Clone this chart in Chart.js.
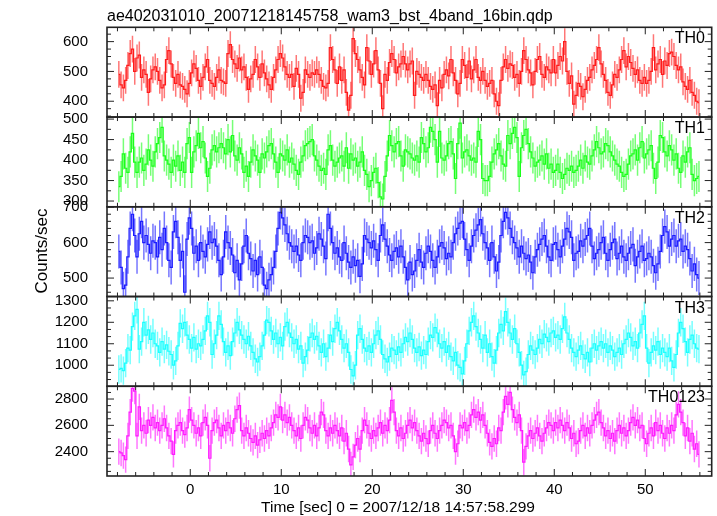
<!DOCTYPE html>
<html>
<head>
<meta charset="utf-8">
<script src="https://cdn.jsdelivr.net/npm/chart.js@4.4.0/dist/chart.umd.min.js"></script>
<style>
html, body { margin: 0; padding: 0; background: #fff; }
canvas { display: block; }
</style>
</head>
<body>
<canvas id="lc" width="717" height="516"></canvas>
<script>
const title = 'ae402031010_20071218145758_wam3_bst_4band_16bin.qdp'
const xTitle = 'Time [sec] 0 = 2007/12/18 14:57:58.299'
const yTitle = 'Counts/sec'

// time of the first bin centre and bin width (sec)
const t0 = -7.85
const binWidth = 0.25

const bands = ['TH0', 'TH1', 'TH2', 'TH3', 'TH0123']
const errors = [45, 38, 48, 66, 100]

const th0 = [
  490,455,445,470,520,560,575,500, 545,555,480,505,490,430,475,505,
  515,500,470,445,455,540,570,525, 480,460,490,455,450,440,425,460,
  495,525,510,470,450,480,515,540, 470,460,450,480,505,470,465,460,
  560,590,540,525,510,545,505,515, 480,440,475,490,540,515,480,525,
  495,475,455,440,480,505,540,560, 545,515,490,480,490,450,510,490,
  410,430,505,490,480,495,490,505, 490,470,450,445,460,580,540,505,
  460,515,470,505,430,370,420,610, 560,540,505,480,455,580,535,490,
  525,570,505,460,375,490,470,530, 560,540,495,515,525,550,525,505,
  525,535,420,500,490,480,470,490, 470,450,440,455,385,470,445,490,
  505,485,540,495,470,425,460,540, 520,480,535,475,505,540,480,470,
  500,470,450,460,470,425,400,385, 470,515,540,510,525,520,480,490,
  460,500,570,540,505,495,455,500, 540,550,490,480,515,505,495,540,
  495,520,550,535,600,500,460,485, 390,420,460,450,415,440,470,480,
  505,520,540,580,525,490,470,430, 420,455,490,480,505,540,570,515,
  550,530,510,490,505,470,460,480, 460,470,500,580,505,525,540,490,
  535,520,560,565,550,520,505,515, 465,450,440,470,430,420,400,395
]

const th1 = [
  335,360,415,380,370,420,465,395, 370,395,405,375,390,425,400,385,
  420,440,455,480,410,400,390,370, 400,385,410,375,395,370,440,455,
  370,420,435,465,430,445,405,360, 380,425,435,420,430,440,430,415,
  450,420,460,410,400,430,415,370, 385,360,395,425,410,400,370,415,
  405,420,435,440,415,395,370,415, 410,400,425,395,405,390,375,365,
  395,410,435,440,445,450,410,400, 385,375,380,365,425,435,400,385,
  395,405,410,385,430,380,415,400, 405,385,395,420,375,365,335,350,
  370,380,345,310,305,360,410,460, 435,420,440,445,410,385,425,420,
  415,405,400,410,395,455,440,420, 430,480,470,450,395,470,405,400,
  410,440,445,415,355,440,490,405, 420,425,410,400,405,395,470,450,
  355,350,350,360,395,415,425,440, 410,390,385,460,440,465,480,455,
  360,430,460,475,440,420,405,385, 395,400,410,390,415,380,390,370,
  375,390,370,355,365,380,375,385, 370,375,385,400,380,410,395,390,
  410,425,445,430,415,420,440,435, 420,410,400,390,385,370,360,365,
  390,410,415,425,400,430,445,405, 415,425,435,380,355,395,460,455,
  420,410,435,425,400,415,380,370, 410,395,420,430,365,350,355,360
]

const th2 = [
  575,530,470,480,560,640,680,620, 560,625,660,600,620,595,570,605,
  600,560,615,580,640,600,550,530, 630,660,615,550,575,460,610,670,
  640,570,590,550,600,575,560,595, 630,600,610,590,550,510,560,630,
  600,585,565,515,550,495,540,590, 620,570,555,520,550,510,560,530,
  480,470,495,510,530,575,640,685, 670,650,625,600,590,575,590,565,
  550,600,620,615,600,605,570,585, 625,610,590,555,680,640,600,570,
  585,560,550,600,570,545,530,560, 535,550,505,540,620,610,600,585,
  605,580,550,620,650,610,590,565, 550,575,585,560,590,560,530,495,
  545,510,520,550,580,545,530,570, 590,575,550,530,560,590,600,585,
  555,570,560,600,625,640,655,660, 610,580,550,590,620,635,650,665,
  625,600,585,550,600,560,520,545, 620,660,685,670,640,615,600,585,
  560,590,570,555,565,545,515,560, 580,595,610,620,590,560,550,595,
  600,580,560,590,610,640,630,615, 550,570,575,605,590,610,620,640,
  590,555,570,580,600,615,570,550, 580,600,610,555,570,590,560,550,
  570,585,595,535,560,575,590,550, 555,570,560,535,515,540,575,620,
  645,630,590,610,620,590,605,610, 575,590,580,555,520,540,510,500
]

const th3 = [
  980,985,975,1010,1080,1070,1180,1230, 1260,1075,1110,1200,1140,1165,1120,1150,
  1100,1090,1060,1110,1075,1095,1065,1050, 1000,1020,1090,1195,1170,1200,1140,1120,
  1080,1130,1075,1100,1090,1120,1160,1230, 1200,1050,1100,1140,1230,1190,1110,1060,
  1090,1045,1110,1150,1200,1165,1140,1120, 1100,1135,1090,1060,1030,1015,1040,1090,
  1140,1210,1200,1160,1120,1150,1100,1130, 1090,1180,1200,1150,1130,1100,1120,1075,
  1090,1010,1040,1070,1130,1150,1120,1135, 1090,1060,1100,1040,1080,1140,1110,1170,
  1200,1160,1120,1080,1100,1060,980,950, 1000,1140,1170,1120,1080,1065,1090,1060,
  1100,1140,1160,1120,1050,1030,1015,1040, 1080,1070,1050,1085,1060,1100,1130,1110,
  1150,1120,1080,1060,1085,1045,1070,1050, 1110,1140,1130,1175,1150,1100,1080,1110,
  1060,1090,1040,1020,1060,1000,990,960, 1020,1100,1160,1200,1230,1180,1150,1120,
  1080,1140,1060,1100,1040,1010,1070,1150, 1190,1160,1250,1200,1150,1120,1170,1100,
  1060,1000,955,970,1050,1090,1070,1050, 1080,1120,1100,1145,1130,1110,1150,1160,
  1130,1140,1120,1170,1225,1150,1120,1080, 1060,1040,1070,1090,1050,1030,1060,1015,
  1080,1100,1070,1090,1110,1080,1100,1060, 1090,1070,1040,1060,1080,1050,1100,1120,
  1150,1130,1090,1110,1080,1150,1190,1230, 1080,1010,1060,1090,1070,1110,1050,1080,
  1060,1040,1080,1020,990,1050,1150,1200, 1170,1110,1060,1120,1140,1100,1080,1075
]

const th0123 = [
  2400,2390,2370,2340,2520,2700,2880,2860, 2520,2740,2560,2600,2540,2640,2600,2660,
  2580,2620,2560,2600,2650,2580,2520,2480, 2380,2560,2600,2620,2560,2530,2580,2720,
  2640,2600,2540,2580,2520,2620,2660,2600, 2350,2560,2620,2640,2580,2520,2600,2560,
  2620,2580,2540,2650,2720,2750,2560,2520, 2580,2540,2500,2470,2520,2450,2490,2540,
  2500,2560,2520,2580,2620,2680,2660,2740, 2640,2680,2620,2660,2600,2560,2520,2580,
  2500,2600,2660,2640,2580,2540,2600,2520, 2580,2700,2680,2560,2520,2580,2540,2600,
  2560,2520,2580,2480,2540,2420,2300,2360, 2450,2500,2420,2560,2640,2600,2540,2500,
  2560,2520,2580,2620,2540,2600,2560,2640, 2790,2700,2560,2520,2580,2500,2540,2600,
  2640,2580,2620,2560,2520,2480,2540,2500, 2460,2560,2600,2540,2500,2560,2600,2640,
  2620,2580,2600,2520,2400,2460,2600,2580, 2620,2560,2600,2680,2720,2660,2700,2640,
  2680,2600,2540,2470,2440,2500,2460,2580, 2560,2700,2820,2760,2850,2720,2660,2620,
  2680,2560,2320,2440,2520,2560,2500,2540, 2580,2520,2480,2540,2580,2620,2600,2560,
  2620,2580,2640,2600,2560,2620,2580,2500, 2540,2460,2480,2560,2600,2520,2580,2540,
  2600,2640,2680,2700,2620,2580,2520,2560, 2500,2540,2480,2560,2600,2540,2580,2520,
  2560,2620,2660,2600,2640,2580,2600,2500, 2460,2540,2580,2520,2620,2560,2600,2540,
  2500,2580,2540,2600,2560,2680,2760,2700, 2620,2520,2580,2480,2540,2420,2460,2380
]

const series = [th0, th1, th2, th3, th0123]

// panel axes
const yMin = [347, 286, 448, 902, 2215]
const yMax = [648, 505, 701, 1320, 2897]
const yMajor = [100, 50, 100, 100, 200]
const yMinor = [25, 25, 20, 100 / 3, 50]
const xMin = -9.15
const xMax = 57.3

const colors = ['#ff1a1a', '#1aff1a', '#1a1aff', '#1affff', '#ff1aff']
const font = 'Liberation Sans'

const datasets = series.map((vals, k) => ({
  label: bands[k],
  yAxisID: 'y' + k,
  data: vals.map((v, i) => ({ x: t0 + i * binWidth, y: v })),
  borderColor: colors[k],
  borderWidth: 1.2,
  stepped: 'middle',
  pointRadius: 0,
  fill: false
}))

const scales = {
  x: {
    type: 'linear', position: 'bottom', min: xMin, max: xMax,
    grid: { display: false }, border: { display: false },
    ticks: { stepSize: 10, includeBounds: false, maxRotation: 0, color: '#000', padding: -3, font: { family: font, size: 15 } },
    afterFit: s => { s.height = 40 }
  }
}
// stacked axes are laid out bottom-up, so the last panel goes first
for (let k = bands.length - 1; k >= 0; k--) {
  scales['y' + k] = {
    type: 'linear', position: 'left', stack: 'panels', stackWeight: 1,
    min: yMin[k], max: yMax[k],
    grid: { display: false }, border: { display: false },
    ticks: { autoSkip: false, color: '#000', padding: 11, font: { family: font, size: 15 }, callback: v => String(v) },
    afterBuildTicks: s => {
      const ticks = []
      for (let v = Math.ceil(yMin[k] / yMajor[k]) * yMajor[k]; v <= yMax[k]; v += yMajor[k]) ticks.push({ value: v })
      s.ticks = ticks
    },
    afterFit: s => { s.width = 107 }
  }
}

// error bars, panel clipping, frames, inward ticks and labels
const qdpFrame = {
  id: 'qdpFrame',
  beforeDatasetDraw(chart, args) {
    const k = args.index
    const xs = chart.scales.x
    const ys = chart.scales['y' + k]
    const ctx = chart.ctx
    ctx.save()
    ctx.beginPath()
    ctx.rect(xs.left, ys.top, xs.right - xs.left, ys.bottom - ys.top)
    ctx.clip()
    ctx.save()
    ctx.strokeStyle = colors[k]
    ctx.globalAlpha = 0.6
    ctx.lineWidth = 1.5
    ctx.beginPath()
    chart.data.datasets[k].data.forEach(p => {
      const px = xs.getPixelForValue(p.x)
      ctx.moveTo(px, ys.getPixelForValue(p.y - errors[k]))
      ctx.lineTo(px, ys.getPixelForValue(p.y + errors[k]))
    })
    ctx.stroke()
    ctx.restore()
  },
  afterDatasetDraw(chart) {
    chart.ctx.restore()
  },
  afterDraw(chart) {
    const ctx = chart.ctx
    const xs = chart.scales.x
    ctx.save()
    bands.forEach((b, k) => {
      const ys = chart.scales['y' + k]
      ctx.strokeStyle = '#222'
      ctx.lineWidth = 1
      ctx.beginPath()
      for (let t = -8; t <= 56; t += 2) {
        const px = xs.getPixelForValue(t)
        const len = t % 10 === 0 ? 7 : 4
        ctx.moveTo(px, ys.top); ctx.lineTo(px, ys.top + len)
        ctx.moveTo(px, ys.bottom); ctx.lineTo(px, ys.bottom - len)
      }
      for (let m = Math.ceil(yMin[k] / yMinor[k]); m * yMinor[k] <= yMax[k]; m++) {
        const v = m * yMinor[k]
        const r = v / yMajor[k]
        const len = Math.abs(r - Math.round(r)) < 1e-6 ? 7 : 4
        const py = ys.getPixelForValue(v)
        ctx.moveTo(xs.left, py); ctx.lineTo(xs.left + len, py)
        ctx.moveTo(xs.right, py); ctx.lineTo(xs.right - len, py)
      }
      ctx.stroke()
      ctx.lineWidth = 1.6
      ctx.strokeRect(xs.left, ys.top, xs.right - xs.left, ys.bottom - ys.top)

      ctx.fillStyle = '#000'
      ctx.font = '16px "' + font + '"'
      ctx.textAlign = 'right'
      ctx.textBaseline = 'alphabetic'
      ctx.fillText(b, 705, ys.top + 16)
    })

    ctx.fillStyle = '#000'
    ctx.font = '16px "' + font + '"'
    ctx.textAlign = 'left'
    ctx.textBaseline = 'alphabetic'
    ctx.fillText(title, xs.left, 20.5)

    ctx.font = '15.5px "' + font + '"'
    ctx.textAlign = 'center'
    ctx.fillText(xTitle, 398, 511.5)

    ctx.translate(42, 251)
    ctx.rotate(-Math.PI / 2)
    ctx.font = '17px "' + font + '"'
    ctx.textAlign = 'center'
    ctx.textBaseline = 'middle'
    ctx.fillText(yTitle, 0, 0)
    ctx.restore()
  }
}

new Chart(document.getElementById('lc'), {
  type: 'line',
  data: { datasets: datasets },
  options: {
    responsive: false,
    animation: false,
    devicePixelRatio: 1,
    events: [],
    layout: { padding: { left: 0, right: 5.3, top: 27.3, bottom: 0 } },
    scales: scales,
    plugins: { legend: { display: false }, tooltip: { enabled: false } }
  },
  plugins: [qdpFrame]
})
</script>
</body>
</html>
